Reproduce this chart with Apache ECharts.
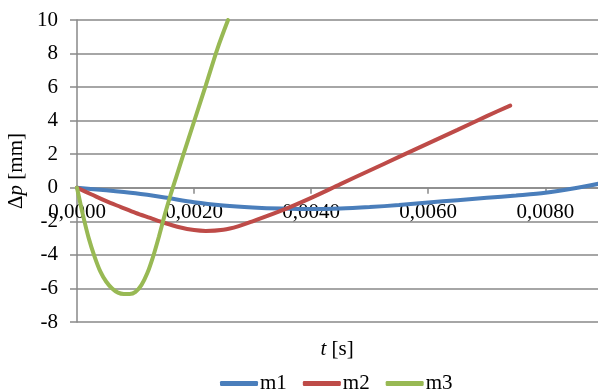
<!DOCTYPE html>
<html>
<head>
<meta charset="utf-8">
<script src="https://cdn.jsdelivr.net/npm/echarts@6/dist/echarts.min.js"></script>
<style>html,body{margin:0;padding:0;background:#fff}#c{width:598px;height:389px}</style>
</head>
<body>
<div id="c"></div>
<script>
var m1T = [0, 0.0005, 0.001, 0.0015, 0.002, 0.0025, 0.003, 0.0035, 0.004, 0.0045, 0.005, 0.0055, 0.006, 0.0065, 0.007, 0.0075, 0.008, 0.0085, 0.009];
var m1V = [0, -0.15, -0.33, -0.58, -0.86, -1.05, -1.17, -1.24, -1.27, -1.24, -1.15, -1.03, -0.88, -0.74, -0.6, -0.46, -0.3, -0.03, 0.3];
var m2T = [0, 0.00025, 0.0005, 0.00075, 0.001, 0.00125, 0.0015, 0.00175, 0.002, 0.0022, 0.0025, 0.00275, 0.003, 0.0035, 0.004, 0.0045, 0.005, 0.0055, 0.006, 0.0065, 0.007, 0.0074];
var m2V = [0, -0.4, -0.8, -1.15, -1.5, -1.8, -2.1, -2.35, -2.52, -2.57, -2.5, -2.3, -2.0, -1.35, -0.6, 0.22, 1.03, 1.84, 2.65, 3.45, 4.27, 4.9];
var m3T = [0, 0.0001, 0.0002, 0.0003, 0.0004, 0.0005, 0.0006, 0.0007, 0.0008, 0.0009, 0.001, 0.0011, 0.0012, 0.0013, 0.0014, 0.0015, 0.0016, 0.0017, 0.0018, 0.002, 0.0022, 0.0024, 0.00258];
var m3V = [0, -1.6, -3.0, -4.1, -5.0, -5.6, -6.0, -6.25, -6.33, -6.33, -6.2, -5.8, -5.1, -4.1, -2.9, -1.6, -0.4, 0.7, 1.8, 3.95, 6.1, 8.3, 10];
var xTicks = [0, 0.002, 0.004, 0.006, 0.008];
var seriesNames = ['m1', 'm2', 'm3'];
var colors = ['#4a7ebb', '#be4b48', '#98b954'];

function pairs(t, v) { return t.map(function (x, i) { return [x, v[i]]; }); }
var font = 'Liberation Serif, Times New Roman, serif';
var chart = echarts.init(document.getElementById('c'));
var data = [pairs(m1T, m1V), pairs(m2T, m2V), pairs(m3T, m3V)];
var gridTop = 20, gridH = 302, yMin = -8, yMax = 10;
var zeroOffset = -gridH * (0 - yMin) / (yMax - yMin);
chart.setOption({
  animation: false,
  backgroundColor: '#fff',
  textStyle: { fontFamily: font },
  grid: { left: 77, top: gridTop, width: 521, height: gridH, containLabel: false, outerBoundsMode: 'none' },
  legend: {
    data: seriesNames,
    top: 368, left: 215,
    icon: 'roundRect', itemWidth: 38, itemHeight: 5, itemGap: 16,
    textStyle: { fontFamily: font, fontSize: 21, color: '#000', padding: [0, 0, 0, -3] }
  },
  graphic: [{
    type: 'text', x: 337, y: 349,
    style: {
      text: '{i|t} [s]', align: 'center', verticalAlign: 'middle',
      fontFamily: font, fontSize: 21, fill: '#000',
      rich: { i: { fontStyle: 'italic', fontFamily: font, fontSize: 21 } }
    }
  }],
  xAxis: {
    type: 'value', min: 0, max: 0.0089, interval: 0.002, position: 'bottom', offset: zeroOffset,
    axisLine: { show: true, onZero: false, lineStyle: { color: '#898989', width: 1.5 } },
    axisTick: { show: true, length: 6, lineStyle: { color: '#898989', width: 1.5 }, customValues: xTicks },
    axisLabel: { customValues: xTicks, margin: 14, fontSize: 21, color: '#000', fontFamily: font,
      formatter: function (v) { return v.toFixed(4).replace('.', ','); } },
    splitLine: { show: false }
  },
  yAxis: {
    type: 'value', min: yMin, max: yMax, interval: 2,
    name: '{a|Δ}{i|p}{a| [mm]}', nameLocation: 'middle', nameGap: 50, nameRotate: 90, nameMoveOverlap: false,
    nameTextStyle: { fontFamily: font, fontSize: 21, color: '#000',
      rich: { a: { fontFamily: font, fontSize: 21 }, i: { fontStyle: 'italic', fontFamily: font, fontSize: 21 } } },
    axisLine: { show: true, onZero: false, lineStyle: { color: '#898989', width: 1.5 } },
    axisTick: { show: true, length: 7, lineStyle: { color: '#898989', width: 1.5 } },
    axisLabel: { margin: 19, fontSize: 21, color: '#000', fontFamily: font },
    splitLine: { show: true, lineStyle: { color: '#898989', width: 1.5 } }
  },
  series: seriesNames.map(function (n, i) {
    return {
      name: n, type: 'line', data: data[i], showSymbol: false, smooth: 0.3,
      color: colors[i], lineStyle: { width: 4, color: colors[i], cap: 'round' }, clip: true
    };
  })
});
</script>
</body>
</html>
